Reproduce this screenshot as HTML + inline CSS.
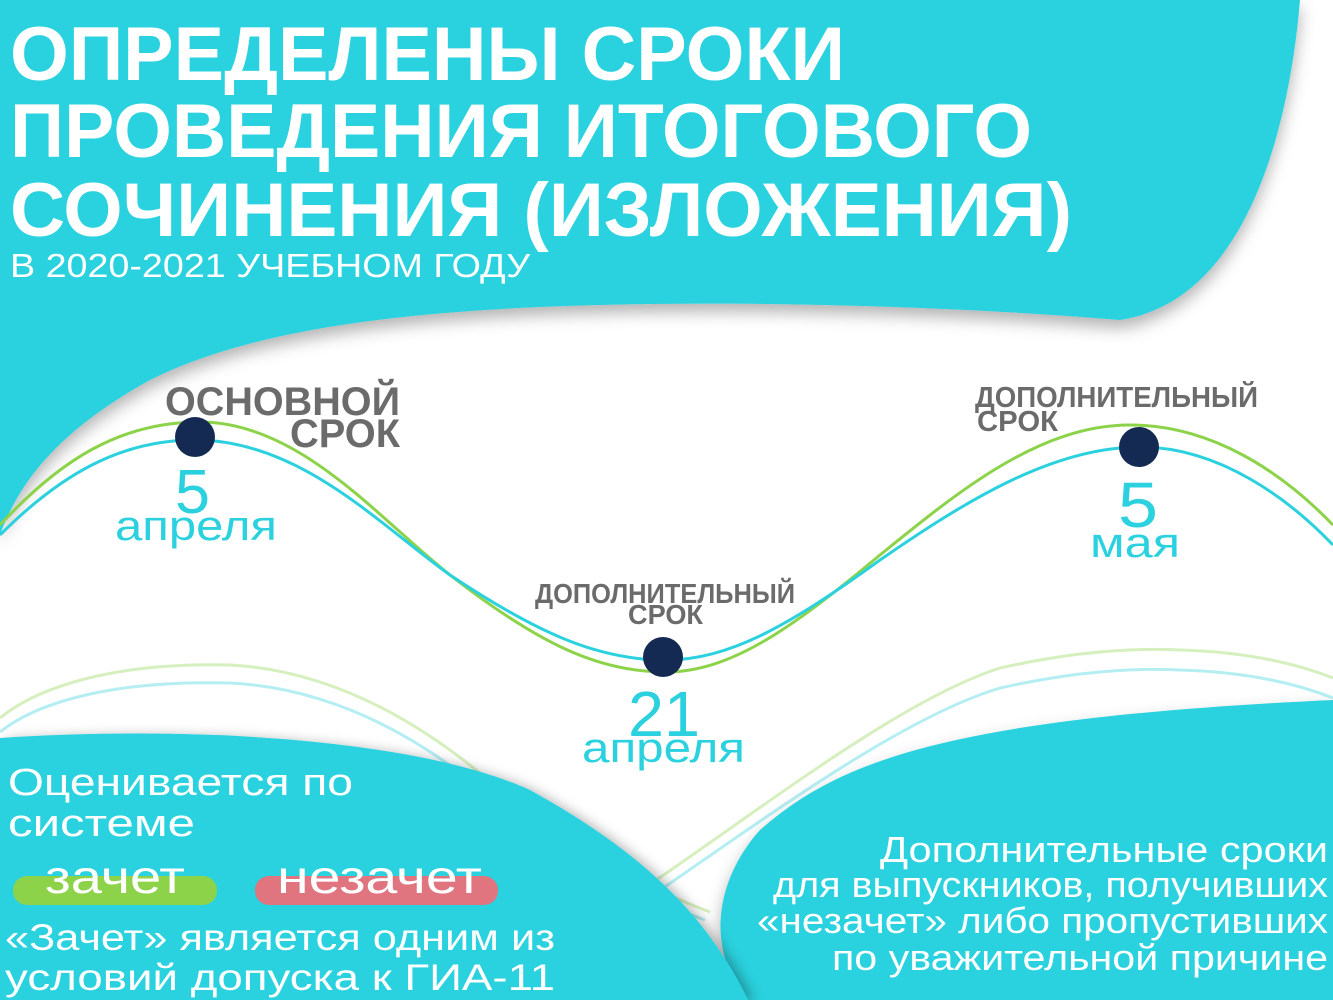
<!DOCTYPE html>
<html><head><meta charset="utf-8"><style>html,body{margin:0;padding:0;background:#fff}svg{display:block}</style></head><body>
<svg width="1333" height="1000" viewBox="0 0 1333 1000" xmlns="http://www.w3.org/2000/svg" font-family="Liberation Sans, DejaVu Sans, sans-serif">
<defs>
<filter id="sh" x="-10%" y="-10%" width="120%" height="130%"><feDropShadow dx="0" dy="8" stdDeviation="8" flood-color="#000" flood-opacity="0.3"/></filter>
<filter id="sh2" x="-10%" y="-10%" width="130%" height="130%"><feDropShadow dx="6" dy="2" stdDeviation="6" flood-color="#000" flood-opacity="0.3"/></filter>
</defs>
<rect width="1333" height="1000" fill="#fff"/>
<path filter="url(#sh)" fill="#2bd1de" d="M0,0 L1300,0 C1290,120 1250,300 1120,320 C1000,310 800,300 600,305 C400,310 250,330 150,380 C60,430 20,480 0,535 Z"/>
<g fill="none" stroke-width="3" opacity="0.35">
<path stroke="#8dd34a" d="M0,718 C40,685 120,662 230,665 C330,670 420,720 500,790 C580,850 650,890 710,912"/>
<path stroke="#2bd1de" d="M0,732 C40,700 120,680 230,683 C330,688 420,735 500,805 C580,862 650,900 705,920"/>
<path stroke="#8dd34a" d="M646,887 C760,810 900,700 1000,668 C1080,650 1140,648 1180,650 C1250,652 1300,665 1333,678"/>
<path stroke="#2bd1de" d="M650,897 C760,822 900,718 1000,688 C1080,670 1140,668 1180,670 C1250,672 1300,685 1333,698"/>
</g>
<path filter="url(#sh)" fill="#2bd1de" d="M748,1000 C705,950 715,880 760,830 C840,760 950,718 1333,700 L1333,1000 Z"/>
<path filter="url(#sh2)" fill="#2bd1de" d="M0,738 C200,725 420,740 530,790 C620,840 700,900 748,1000 L0,1000 Z"/>
<path fill="none" stroke="#8dd34a" stroke-width="3" d="M0,525 C60,460 120,422 200,422 C300,422 380,520 450,575 C540,645 600,672 665,672 C730,672 790,630 880,555 C960,490 1040,425 1130,425 C1210,425 1280,470 1333,525"/>
<path fill="none" stroke="#2bd1de" stroke-width="3" d="M0,535 C60,475 120,440 195,440 C300,440 380,525 450,575 C540,635 600,660 665,660 C730,660 790,625 880,560 C960,505 1050,447 1140,447 C1220,447 1290,500 1333,545"/>
<circle cx="195" cy="437" r="20" fill="#142a52"/>
<circle cx="663" cy="657" r="20" fill="#142a52"/>
<circle cx="1139" cy="447" r="20" fill="#142a52"/>
<g fill="#fff" font-weight="bold" font-size="76">
<text x="10" y="80" textLength="835" lengthAdjust="spacingAndGlyphs">ОПРЕДЕЛЕНЫ СРОКИ</text>
<text x="10" y="157" textLength="1022" lengthAdjust="spacingAndGlyphs">ПРОВЕДЕНИЯ ИТОГОВОГО</text>
<text x="10" y="236" textLength="1062" lengthAdjust="spacingAndGlyphs">СОЧИНЕНИЯ (ИЗЛОЖЕНИЯ)</text>
</g>
<text x="10" y="277" fill="#fff" font-size="33" textLength="520" lengthAdjust="spacingAndGlyphs">В 2020-2021 УЧЕБНОМ ГОДУ</text>
<g fill="#6b6b6b" font-weight="bold">
<text x="165" y="415" font-size="40" textLength="235" lengthAdjust="spacingAndGlyphs">ОСНОВНОЙ</text>
<text x="290" y="447" font-size="40" textLength="110" lengthAdjust="spacingAndGlyphs">СРОК</text>
<text x="975" y="407" font-size="29" textLength="283" lengthAdjust="spacingAndGlyphs">ДОПОЛНИТЕЛЬНЫЙ</text>
<text x="977" y="431" font-size="29" textLength="81" lengthAdjust="spacingAndGlyphs">СРОК</text>
<text x="535" y="603" font-size="28" textLength="260" lengthAdjust="spacingAndGlyphs">ДОПОЛНИТЕЛЬНЫЙ</text>
<text x="628" y="624" font-size="28" textLength="75" lengthAdjust="spacingAndGlyphs">СРОК</text>
</g>
<g fill="#2bd1de">
<text x="175" y="513" font-size="62" textLength="35" lengthAdjust="spacingAndGlyphs">5</text>
<text x="115" y="540" font-size="42" textLength="162" lengthAdjust="spacingAndGlyphs">апреля</text>
<text x="1118" y="527" font-size="64" textLength="40" lengthAdjust="spacingAndGlyphs">5</text>
<text x="1090" y="557" font-size="42" textLength="90" lengthAdjust="spacingAndGlyphs">мая</text>
<text x="628" y="736" font-size="64" textLength="72" lengthAdjust="spacingAndGlyphs">21</text>
<text x="582" y="762" font-size="42" textLength="163" lengthAdjust="spacingAndGlyphs">апреля</text>
</g>
<g fill="#fff" font-size="38">
<text x="8" y="795" textLength="345" lengthAdjust="spacingAndGlyphs">Оценивается по</text>
<text x="8" y="836" textLength="187" lengthAdjust="spacingAndGlyphs">системе</text>
</g>
<rect x="13" y="876" width="204" height="29" rx="14" fill="#8dd34a"/>
<rect x="255" y="876" width="243" height="29" rx="14" fill="#e07580"/>
<text x="45" y="893" fill="#fff" font-size="46" textLength="140" lengthAdjust="spacingAndGlyphs">зачет</text>
<text x="277" y="893" fill="#fff" font-size="46" textLength="205" lengthAdjust="spacingAndGlyphs">незачет</text>
<g fill="#fff" font-size="37">
<text x="5" y="950" textLength="550" lengthAdjust="spacingAndGlyphs">«Зачет» является одним из</text>
<text x="5" y="990" textLength="550" lengthAdjust="spacingAndGlyphs">условий допуска к ГИА-11</text>
</g>
<g fill="#fff" font-size="36">
<text x="880" y="862" textLength="448" lengthAdjust="spacingAndGlyphs">Дополнительные сроки</text>
<text x="773" y="897" textLength="555" lengthAdjust="spacingAndGlyphs">для выпускников, получивших</text>
<text x="757" y="933" textLength="571" lengthAdjust="spacingAndGlyphs">«незачет» либо пропустивших</text>
<text x="832" y="970" textLength="496" lengthAdjust="spacingAndGlyphs">по уважительной причине</text>
</g>
</svg>
</body></html>
